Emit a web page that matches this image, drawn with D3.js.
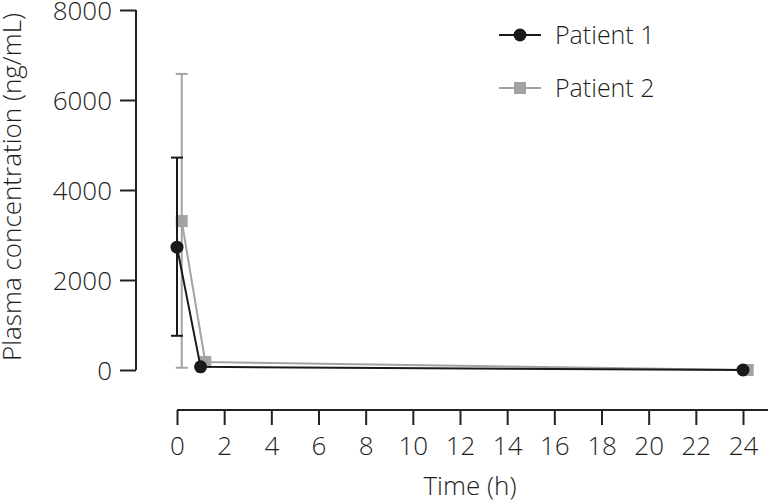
<!DOCTYPE html>
<html>
<head>
<meta charset="utf-8">
<script src="https://cdn.jsdelivr.net/npm/d3@7"></script>
<style>
  body { margin: 0; background: #fff; }
  text { font-family: "Open Sans", sans-serif; font-weight: 300; fill: #1e1e1e; }
</style>
</head>
<body>
<div id="chart"></div>
<script>
// data
var p1Time = [0, 1, 24];
var p1Conc = [2730, 70, 0];
var p1Lo = [760, null, null];
var p1Hi = [4720, null, null];

var p2Time = [0.2, 1.2, 24.2];
var p2Conc = [3310, 180, 0];
var p2Lo = [50, null, null];
var p2Hi = [6580, null, null];

var xTicks = [0, 2, 4, 6, 8, 10, 12, 14, 16, 18, 20, 22, 24];
var yTicks = [0, 2000, 4000, 6000, 8000];
var seriesNames = ["Patient 1", "Patient 2"];

var W = 768, H = 502;
var svg = d3.select("#chart").append("svg")
    .attr("width", W)
    .attr("height", H);

var x = d3.scaleLinear().domain([0, 24]).range([177, 743]);
var y = d3.scaleLinear().domain([0, 8000]).range([370, 10]);

// y axis
var yAxis = svg.append("g")
    .attr("transform", "translate(136,0)")
    .call(d3.axisLeft(y).tickValues(yTicks).tickSize(16).tickPadding(8).tickFormat(d3.format("d")));
yAxis.select(".domain").attr("d", "M0," + y(8000) + "V" + y(0));

// x axis
var xAxis = svg.append("g")
    .attr("transform", "translate(0,410)")
    .call(d3.axisBottom(x).tickValues(xTicks).tickSize(15).tickPadding(12));
xAxis.select(".domain").attr("d", "M" + x(0) + ",0H" + W);

svg.selectAll(".tick text").style("font-size", "26px").style("font-family", "Open Sans, sans-serif")
    .style("font-weight", 300).attr("fill", "#1e1e1e");
yAxis.selectAll(".tick text").attr("dy", "0.38em");
svg.selectAll(".domain, .tick line").attr("stroke", "#222").attr("stroke-width", 2);

svg.append("text")
    .attr("x", 470).attr("y", 495)
    .attr("text-anchor", "middle")
    .style("font-size", "26px")
    .text("Time (h)");

svg.append("text")
    .attr("transform", "translate(21,187) rotate(-90)")
    .attr("text-anchor", "middle")
    .style("font-size", "26px")
    .text("Plasma concentration (ng/mL)");

function makeSeries(t, c) {
    return t.map(function (d, i) { return { t: d, c: c[i] }; });
}
var p1 = makeSeries(p1Time, p1Conc);
var p2 = makeSeries(p2Time, p2Conc);

var line = d3.line()
    .x(function (d) { return x(d.t); })
    .y(function (d) { return y(d.c); });

function errorBars(t, lo, hi, color) {
    t.forEach(function (d, i) {
        if (lo[i] == null) return;
        var g = svg.append("g").attr("stroke", color).attr("stroke-width", 2);
        g.append("line").attr("x1", x(d)).attr("x2", x(d)).attr("y1", y(lo[i])).attr("y2", y(hi[i]));
        g.append("line").attr("x1", x(d) - 6).attr("x2", x(d) + 6).attr("y1", y(lo[i])).attr("y2", y(lo[i]));
        g.append("line").attr("x1", x(d) - 6).attr("x2", x(d) + 6).attr("y1", y(hi[i])).attr("y2", y(hi[i]));
    });
}

var gray = "#a3a3a3", black = "#1a1a1a";

// patient 2 first (behind)
errorBars(p2Time, p2Lo, p2Hi, gray);
svg.append("path").datum(p2).attr("d", line)
    .attr("fill", "none").attr("stroke", gray).attr("stroke-width", 2);
svg.selectAll(".sq").data(p2).enter().append("rect")
    .attr("x", function (d) { return x(d.t) - 6; })
    .attr("y", function (d) { return y(d.c) - 6; })
    .attr("width", 12).attr("height", 12)
    .attr("fill", gray);

errorBars(p1Time, p1Lo, p1Hi, black);
svg.append("path").datum(p1).attr("d", line)
    .attr("fill", "none").attr("stroke", black).attr("stroke-width", 2);
svg.selectAll(".dot").data(p1).enter().append("circle")
    .attr("cx", function (d) { return x(d.t); })
    .attr("cy", function (d) { return y(d.c); })
    .attr("r", 6.5)
    .attr("fill", black);

// legend
var leg = svg.append("g");
seriesNames.forEach(function (name, i) {
    var ly = 35 + i * 53;
    var col = i === 0 ? black : gray;
    leg.append("line").attr("x1", 499).attr("x2", 541).attr("y1", ly).attr("y2", ly)
        .attr("stroke", col).attr("stroke-width", 2);
    if (i === 0) {
        leg.append("circle").attr("cx", 520).attr("cy", ly).attr("r", 6.5).attr("fill", col);
    } else {
        leg.append("rect").attr("x", 514).attr("y", ly - 6).attr("width", 12).attr("height", 12).attr("fill", col);
    }
    leg.append("text").attr("x", 555).attr("y", ly + 9)
        .style("font-size", "25px")
        .text(name);
});
</script>
</body>
</html>
